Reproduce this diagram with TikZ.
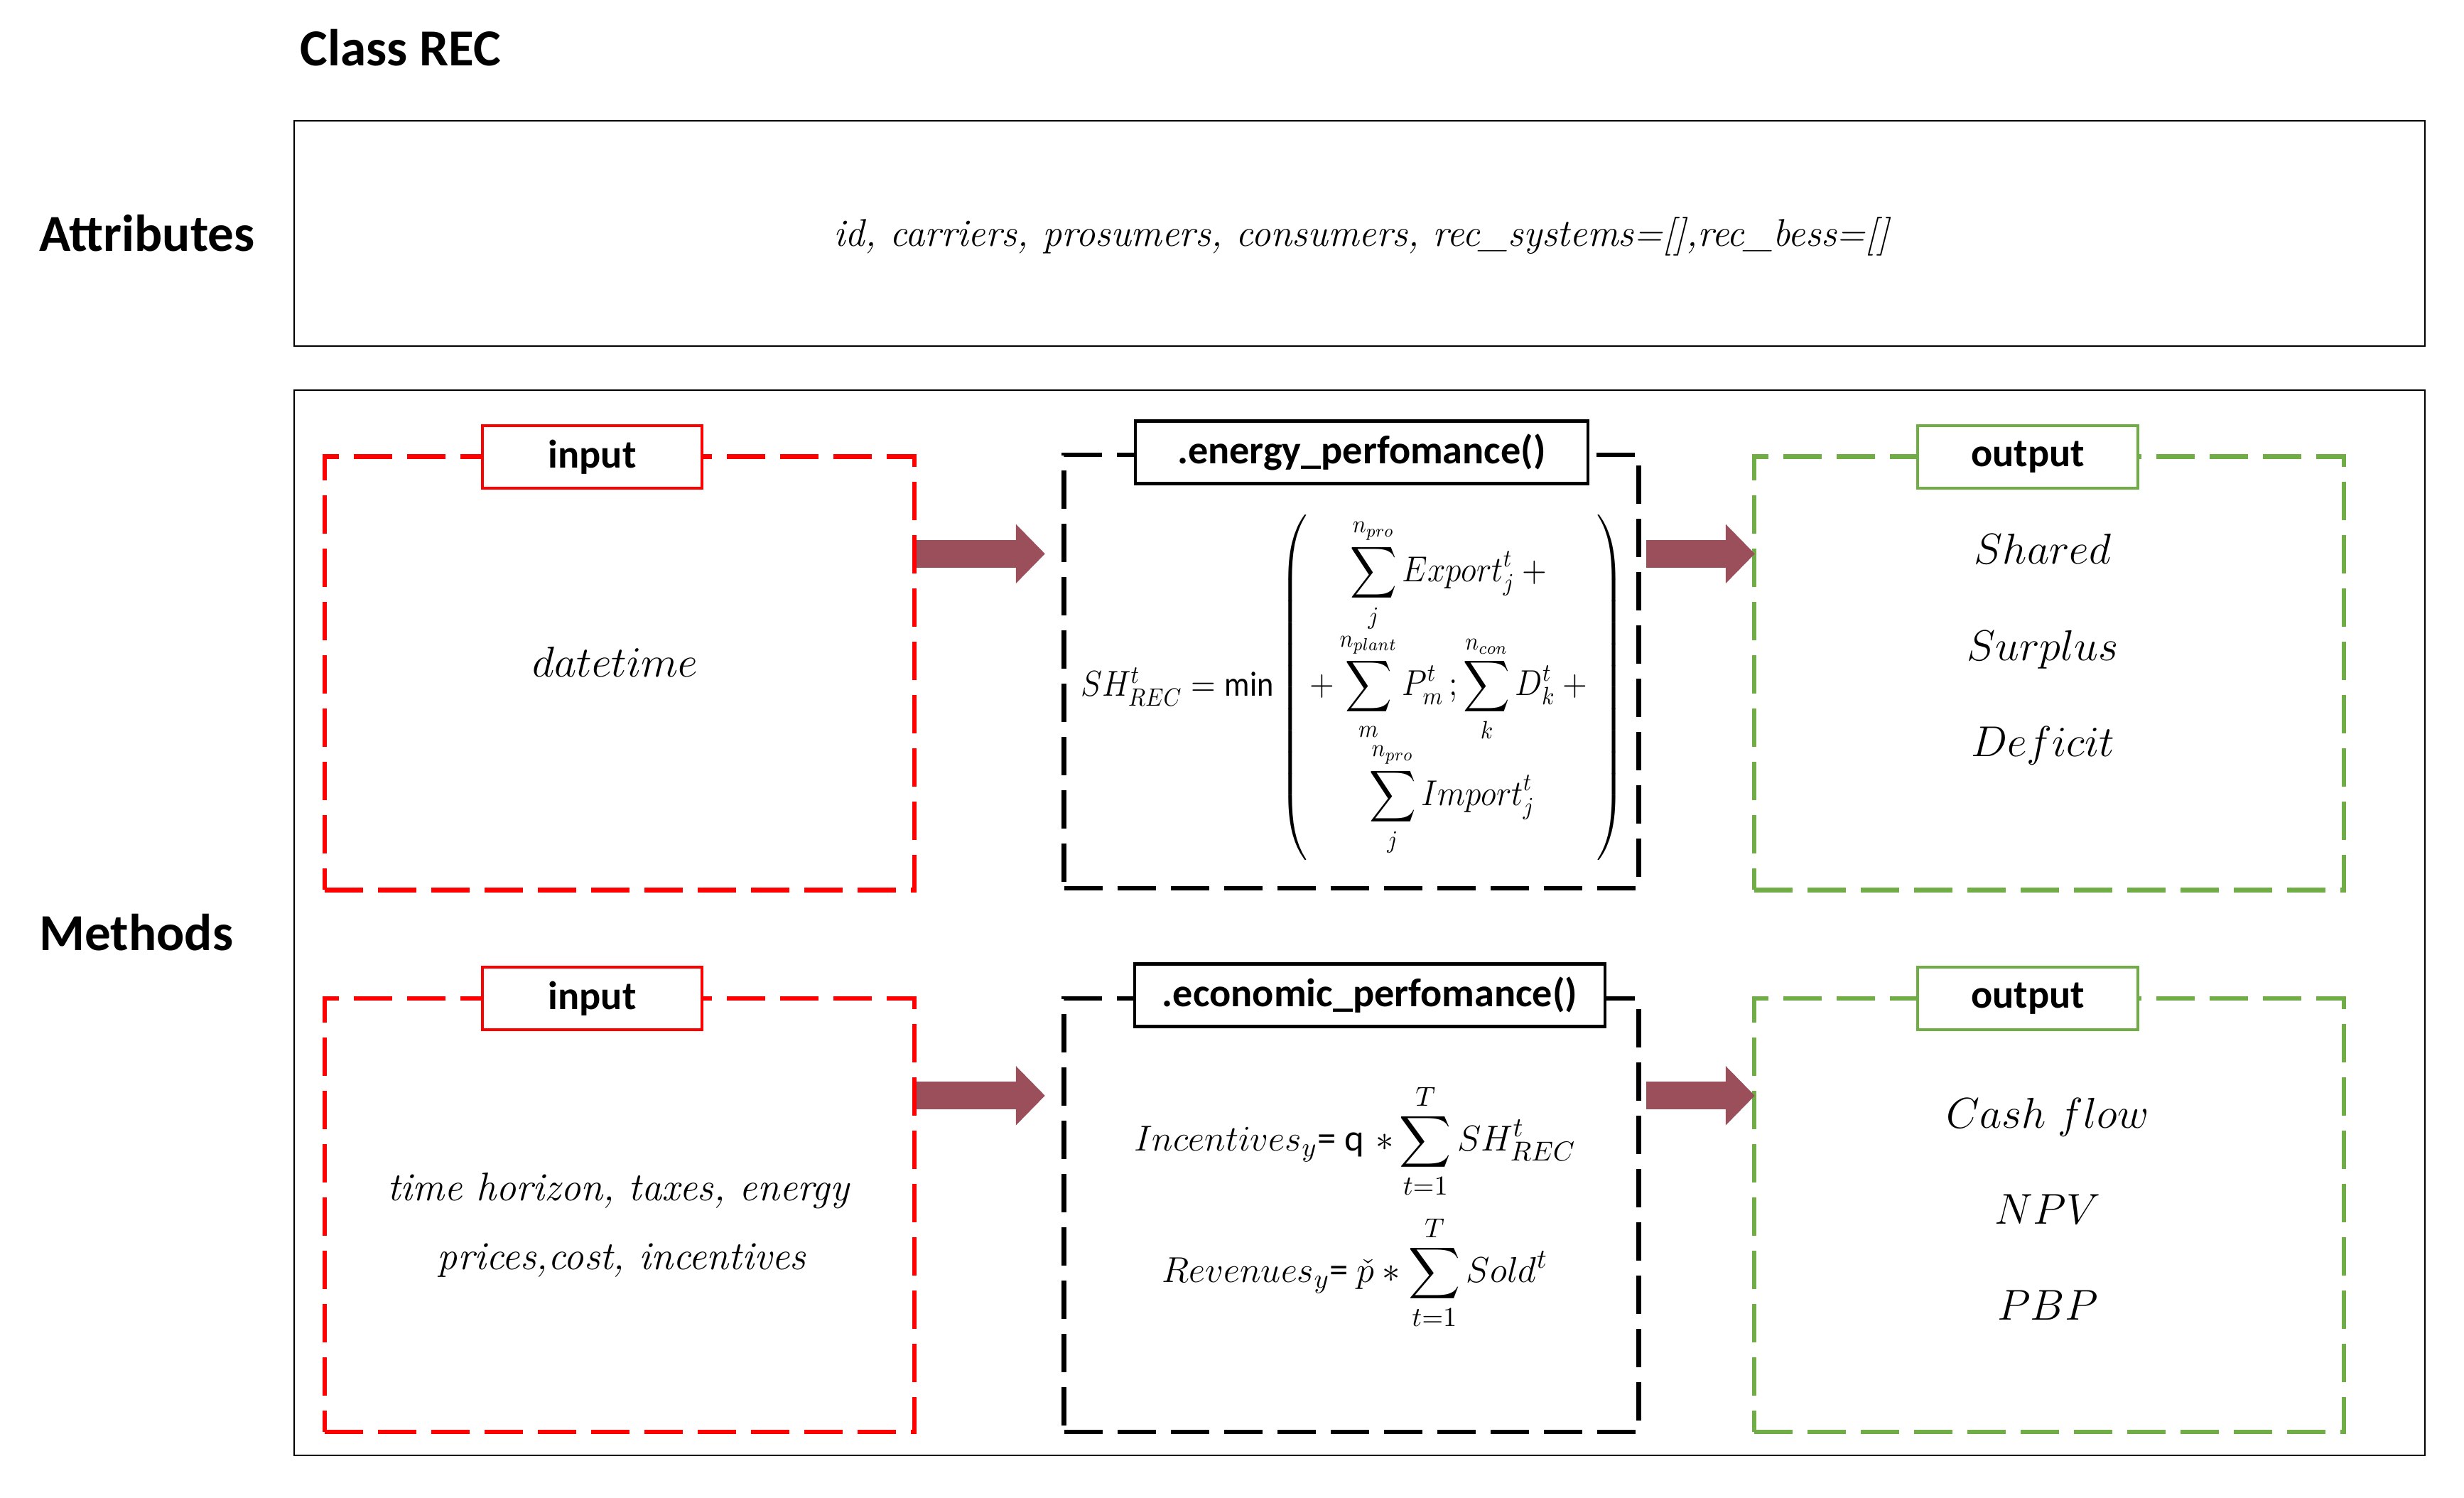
\documentclass[tikz,border=0pt]{standalone}
\usepackage{amsmath}
\usepackage{graphicx}
\usepackage{fontspec}
\setsansfont{Carlito}
\usetikzlibrary{arrows.meta}

\definecolor{recred}{RGB}{255,0,0}
\definecolor{recgreen}{RGB}{112,173,71}
\definecolor{recarrow}{RGB}{155,79,91}

\begin{document}
\begin{tikzpicture}[
    heading/.style = {
      font=\fontsize{20.8}{25}\selectfont\sffamily\bfseries,
      anchor=base west,
      inner sep=0pt
    },
    frame/.style = {
      draw,
      line width=0.4pt,
      minimum width=29.99cm,
      inner sep=0pt
    },
    panel/.style = {
      draw,
      line width=1.8pt,
      dash pattern=on 0.54cm off 0.21cm,
      minimum width=8.3cm,
      minimum height=6.1cm,
      inner sep=0pt
    },
    tag/.style = {
      draw,
      line width=1.2pt,
      fill=white,
      minimum height=0.88cm,
      inner sep=0pt,
      font=\fontsize{16}{19}\selectfont\sffamily\bfseries
    },
    entry/.style = {
      font=\fontsize{16}{19}\selectfont,
      anchor=base,
      inner sep=0pt
    },
    fatarrow/.style = {
      recarrow,
      line width=0.39cm,
      -{Triangle[length=0.41cm, width=0.81cm]}
    }
  ]
  \useasboundingbox (0,0) rectangle (34.68,21.08);

  % class and attributes
  \node[heading] (classname) at (4.22,20.15) {Class REC};
  \node[frame, minimum height=3.17cm] (attrbox) at (19.135,17.795) {};
  \node[heading] (attrhead) at (0.55,17.54) {Attributes};
  \node[entry, font=\fontsize{15.5}{19}\selectfont] (attrtext) at (19.16,17.61)
    {\itshape id, carriers, prosumers, consumers, rec\_systems=[],rec\_bess=[]};

  % methods
  \node[frame, minimum height=14.99cm] (methbox) at (19.135,8.095) {};
  \node[heading] (methhead) at (0.55,7.70) {Methods};

  % energy row
  \node[panel, draw=recred] (in1) at (8.72,11.605) {};
  \node[panel, minimum width=8.09cm] (en) at (19.02,11.63) {};
  \node[panel, draw=recgreen] (out1) at (28.84,11.605) {};

  \node[tag, draw=recred, minimum width=3.09cm] (in1tag) at (8.335,14.65) {input};
  \node[tag, minimum width=6.37cm] (entag) at (19.165,14.715) {.energy\_perfomance()};
  \node[tag, draw=recgreen, minimum width=3.10cm] (out1tag) at (28.54,14.65) {output};

  \node[entry] (dt) at (8.66,11.555) {$datetime$};

  \node[entry, font=\fontsize{14}{17}\selectfont] (enf) at (19.04,11.28)
    {\setlength{\arraycolsep}{1pt}%
    \scalebox{0.9}[1]{$SH^{t}_{REC} = \textsf{min}\left(\begin{array}{c}
      \displaystyle\sum_{j}^{n_{pro}} Export^{t}_{j} + {} \\[7pt]
      + \displaystyle\sum_{m}^{n_{plant}} P^{t}_{m}\,;\displaystyle\sum_{k}^{n_{con}} D^{t}_{k} + {} \\[7pt]
      \displaystyle\sum_{j}^{n_{pro}} Import^{t}_{j}
    \end{array}\right)$}};

  \node[entry] (shared) at (28.75,13.14) {$Shared$};
  \node[entry] (surplus) at (28.75,11.78) {$Surplus$};
  \node[entry] (deficit) at (28.75,10.43) {$Deficit$};

  % economic row
  \node[panel, draw=recred] (in2) at (8.72,3.98) {};
  \node[panel, minimum width=8.09cm] (ec) at (19.02,3.98) {};
  \node[panel, draw=recgreen] (out2) at (28.84,3.98) {};

  \node[tag, draw=recred, minimum width=3.09cm] (in2tag) at (8.335,7.03) {input};
  \node[tag, minimum width=6.62cm] (ectag) at (19.28,7.075) {.economic\_perfomance()};
  \node[tag, draw=recgreen, minimum width=3.10cm] (out2tag) at (28.54,7.03) {output};

  \node[entry] (hor) at (8.70,4.18) {\itshape time horizon, taxes, energy};
  \node[entry] (pri) at (8.75,3.21) {\itshape prices,cost, incentives};

  \node[entry, font=\fontsize{15}{18}\selectfont] (inc) at (19.07,4.88)
    {$Incentives_{y}$\textsf{= q} $\ast \displaystyle\sum_{t=1}^{T} SH^{t}_{REC}$};
  \node[entry, font=\fontsize{15}{18}\selectfont] (rev) at (19.07,3.03)
    {$Revenues_{y}$\textsf{= }$\check{p} \ast \displaystyle\sum_{t=1}^{T} Sold^{t}$};

  \node[entry] (cash) at (28.82,5.20) {$Cash\ flow$};
  \node[entry] (npv) at (28.82,3.85) {$NPV$};
  \node[entry] (pbp) at (28.82,2.50) {$PBP$};

  % arrows
  \coordinate (a1) at ([yshift=-1.4cm]in1.north east);
  \coordinate (a2) at ([yshift=-1.4cm]in2.north east);
  \draw[fatarrow, shorten >=0.235cm] (a1) -- (a1 -| en.west);
  \draw[fatarrow, shorten <=0.07cm, shorten >=-0.04cm] (a1 -| en.east) -- (a1 -| out1.west);
  \draw[fatarrow, shorten >=0.235cm] (a2) -- (a2 -| ec.west);
  \draw[fatarrow, shorten <=0.07cm, shorten >=-0.04cm] (a2 -| ec.east) -- (a2 -| out2.west);
\end{tikzpicture}
\end{document}
